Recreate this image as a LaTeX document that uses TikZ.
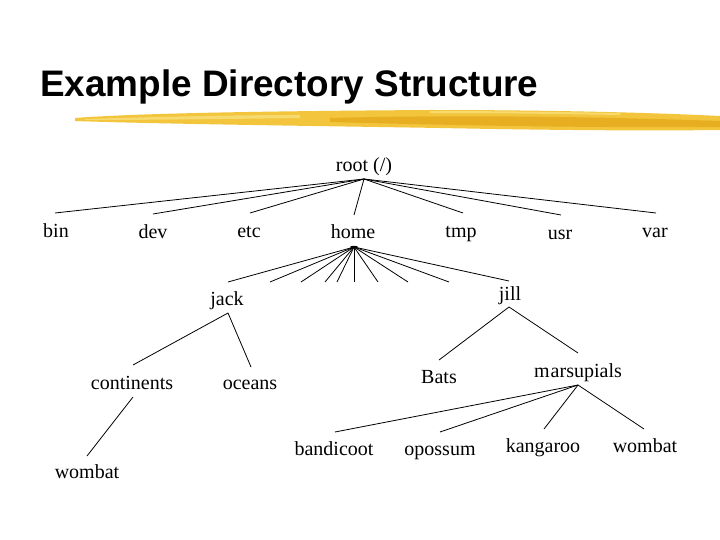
\documentclass[tikz,border=0pt]{standalone}
\usepackage{fontspec}
\setmainfont{Liberation Serif}
\newfontfamily\titlefont{Liberation Sans}
\definecolor{brushA}{HTML}{F2C53C}
\definecolor{brushB}{HTML}{E8AE22}
\definecolor{brushC}{HTML}{F7DA6E}
\begin{document}
\begin{tikzpicture}[x=1pt,y=-1pt,
  lbl/.style={anchor=base,inner sep=0pt,font=\fontsize{20}{24}\selectfont},
  edge/.style={draw=black,line width=0.8pt}]
\useasboundingbox (0,0) rectangle (720,540);
\fill[white] (0,0) rectangle (720,540);
% title
\node[anchor=base west,inner sep=0pt,font=\titlefont\bfseries\fontsize{36.9}{40}\selectfont] (title) at (40,97) {Example Directory Structure};
% brush stroke
\fill[brushA] (75,118) .. controls (140,113) and (280,111) .. (430,110)
  .. controls (560,110) and (660,113) .. (720,116) -- (720,130)
  .. controls (640,131) and (540,130) .. (440,128)
  .. controls (320,126) and (160,124) .. (75,121) -- cycle;
\fill[brushB] (330,118) .. controls (440,115) and (580,116) .. (720,121)
  -- (720,127) .. controls (580,128) and (440,125) .. (330,122) -- cycle;
\fill[brushC] (85,119) .. controls (150,117) and (230,115) .. (300,115)
  -- (300,118) .. controls (230,119) and (150,120) .. (85,120) -- cycle;
\fill[brushC] (430,111) .. controls (500,111) and (560,112) .. (620,113)
  -- (620,115) .. controls (560,114) and (500,113) .. (430,113) -- cycle;
% labels
\node[lbl] (root) at (364,172) {root (/)};
\node[lbl] (bin) at (56,237) {bin};
\node[lbl] (dev) at (153,239) {dev};
\node[lbl] (etc) at (249,237) {etc};
\node[lbl] (home) at (353,239) {home};
\node[lbl] (tmp) at (461,237) {tmp};
\node[lbl] (usr) at (560,240) {usr};
\node[lbl] (var) at (655,237) {var};
\node[lbl] (jack) at (227,305) {jack};
\node[lbl] (jill) at (510,300) {jill};
\node[lbl] (continents) at (132,389) {continents};
\node[lbl] (oceans) at (250,389) {oceans};
\node[lbl] (bats) at (439,383) {Bats};
\node[lbl] (marsupials) at (578,377) {m\kern1pt arsupials};
\node[lbl] (bandicoot) at (334,455) {bandicoot};
\node[lbl] (opossum) at (440,455) {opossum};
\node[lbl] (kangaroo) at (543,452) {kangaroo};
\node[lbl] (wombatR) at (645,452) {wombat};
\node[lbl] (wombatL) at (87,478) {wombat};
% connector points
\coordinate (rootB) at (364,179);
\coordinate (binT) at (55,213);
\coordinate (devT) at (153,214);
\coordinate (etcT) at (250,213);
\coordinate (homeT) at (354,215);
\coordinate (tmpT) at (463,213);
\coordinate (usrT) at (561,215);
\coordinate (varT) at (656,213);
\coordinate (homeB) at (354,247);
\coordinate (jackT) at (228,282);
\coordinate (h2) at (270,282);
\coordinate (h3) at (301,282);
\coordinate (h4) at (325,282);
\coordinate (h5) at (337,282);
\coordinate (h6) at (354,282);
\coordinate (h7) at (378,282);
\coordinate (h8) at (408,282);
\coordinate (h9) at (449,282);
\coordinate (jillT) at (509,281);
\coordinate (jackB) at (228,313);
\coordinate (contT) at (133,365);
\coordinate (oceT) at (251,367);
\coordinate (contB) at (133,397);
\coordinate (wombLT) at (87,456);
\coordinate (jillB) at (509,307);
\coordinate (batsT) at (439,360);
\coordinate (marsT) at (578,353);
\coordinate (marsB) at (578,385);
\coordinate (bandT) at (335,432);
\coordinate (opoT) at (440,432);
\coordinate (kanT) at (544,429);
\coordinate (wombRT) at (644,429);
% edges
\foreach \c in {binT,devT,etcT,homeT,tmpT,usrT,varT} \draw[edge] (rootB) -- (\c);
\foreach \c in {jackT,h2,h3,h4,h5,h6,h7,h8,h9,jillT} \draw[edge] (homeB) -- (\c);
\fill (homeB) ellipse (4pt and 1.2pt);
\draw[edge] (jackB) -- (contT);
\draw[edge] (jackB) -- (oceT);
\draw[edge] (contB) -- (wombLT);
\draw[edge] (jillB) -- (batsT);
\draw[edge] (jillB) -- (marsT);
\foreach \c in {bandT,opoT,kanT,wombRT} \draw[edge] (marsB) -- (\c);
\end{tikzpicture}
\end{document}
